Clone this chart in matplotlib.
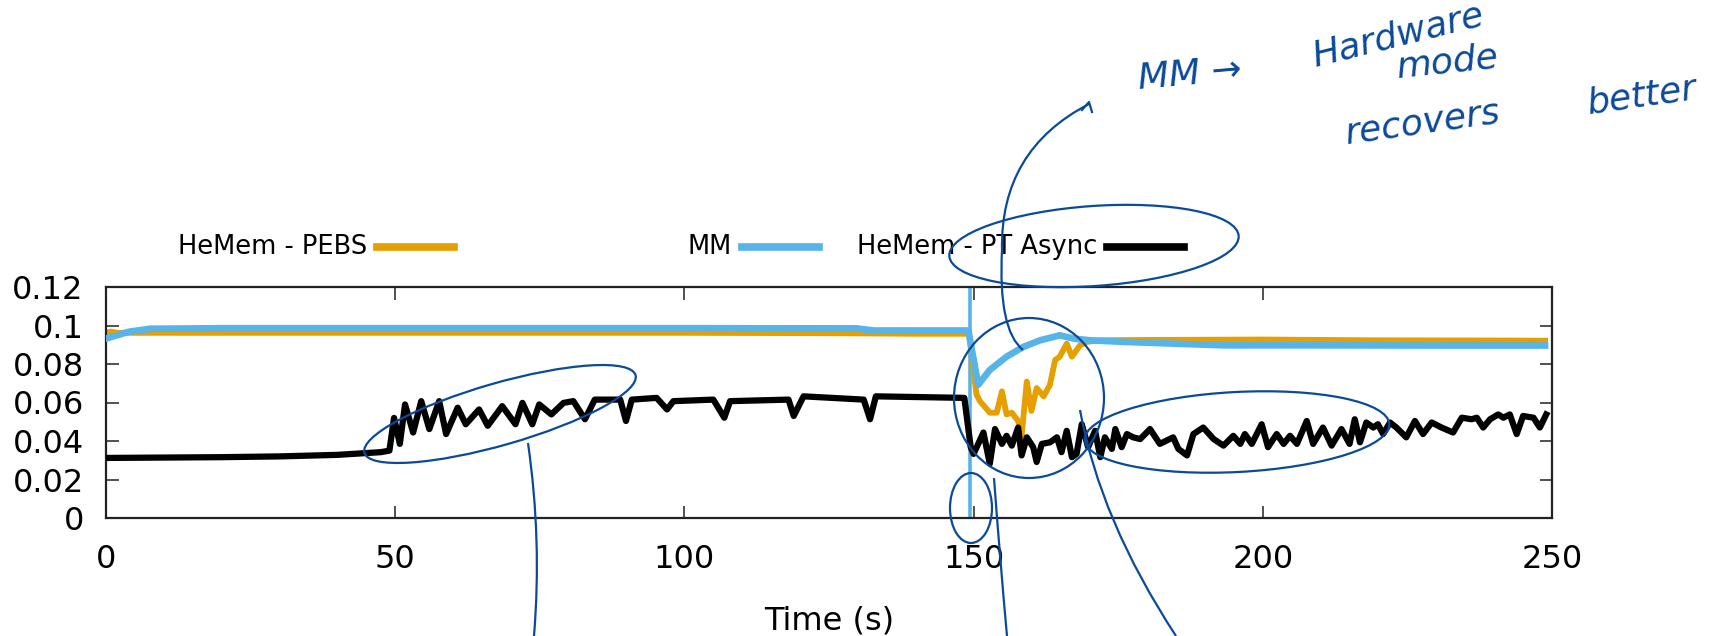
import matplotlib
matplotlib.use("Agg")
import matplotlib.pyplot as plt
from matplotlib.lines import Line2D
from matplotlib.patches import Ellipse, PathPatch
from matplotlib.path import Path

# ---- data ----
pebs_t = [0, 0.8, 2, 10, 50, 100, 125, 140, 149.2, 150.5, 151.1, 152.8, 154.0, 154.9,
          155.7, 156.6, 157.7, 158.3, 159.2, 160.0, 160.9, 162.1, 163.2, 164.1, 164.9,
          166.1, 167.0, 168.4, 169.6, 171.9, 180, 200, 220, 240, 248.8]
pebs_v = [0.0962, 0.0968, 0.0962, 0.0962, 0.0962, 0.0962, 0.0960, 0.0957, 0.0957, 0.0641,
          0.0607, 0.0547, 0.0547, 0.0658, 0.0538, 0.0547, 0.0504, 0.0427, 0.0709, 0.0556,
          0.0675, 0.0632, 0.0692, 0.0821, 0.0838, 0.0906, 0.0838, 0.0897, 0.0915, 0.0923,
          0.0925, 0.0927, 0.0923, 0.0922, 0.0921]

mm_t = [0, 2, 4, 7.6, 20, 60, 100, 129.8, 132.7, 149.1, 150.8, 152.8, 155.7, 158.6,
        161.5, 164.9, 167.3, 170.1, 175.9, 184.5, 193.2, 210, 230, 248.8]
mm_v = [0.0932, 0.0950, 0.0968, 0.0983, 0.0986, 0.0986, 0.0986, 0.0985, 0.0974, 0.0974,
        0.0692, 0.0769, 0.0838, 0.0889, 0.0923, 0.0949, 0.0932, 0.0923, 0.0915, 0.0906,
        0.0897, 0.0897, 0.0896, 0.0896]

mm_event = 149.3

pt_t = [0, 10, 20, 30, 40, 47.5, 49.0, 49.8, 50.8, 51.7, 53.1, 54.5, 55.9, 57.6, 58.8,
        60.8, 62.2, 64.5, 66.0, 68.5, 70.8, 72.0, 73.7, 74.9, 77.0, 79.1, 80.8, 82.8,
        84.5, 88.9, 89.9, 90.9, 95.2, 97.0, 98.1, 105.0, 106.9, 107.9, 118.0, 118.9,
        120.6, 131.0, 132.1, 133.1, 148.4, 149.5, 150.0, 151.7, 152.8, 153.7, 154.9,
        155.7, 156.6, 157.7, 158.3, 159.2, 160.3, 160.9, 161.8, 163.2, 164.4, 165.2,
        166.1, 167.0, 167.8, 168.7, 169.8, 171.0, 171.9, 172.7, 173.9, 174.5, 175.6,
        176.5, 177.6, 178.8, 180.5, 182.2, 184.5, 185.4, 186.9, 188.0, 189.7, 191.5,
        193.2, 194.9, 196.1, 196.9, 198.1, 199.8, 200.9, 202.4, 203.6, 204.7, 205.9,
        207.6, 208.7, 210.4, 211.9, 213.6, 215.0, 215.9, 216.8, 217.9, 219.1, 219.9,
        220.8, 222.0, 223.1, 224.8, 226.3, 227.7, 229.2, 230.9, 232.9, 234.4, 236.1,
        237.0, 238.1, 239.3, 240.7, 241.6, 242.7, 243.9, 245.0, 246.8, 247.9, 249.0]
pt_v = [0.0312, 0.0314, 0.0316, 0.0320, 0.0328, 0.0342, 0.0350, 0.0520, 0.0385, 0.0590,
        0.0444, 0.0607, 0.0462, 0.0607, 0.0436, 0.0573, 0.0487, 0.0564, 0.0479, 0.0581,
        0.0487, 0.0598, 0.0487, 0.0590, 0.0538, 0.0598, 0.0607, 0.0513, 0.0615, 0.0615,
        0.0504, 0.0615, 0.0624, 0.0564, 0.0607, 0.0615, 0.0521, 0.0607, 0.0615, 0.0530,
        0.0632, 0.0615, 0.0513, 0.0632, 0.0624, 0.0368, 0.0333, 0.0444, 0.0282, 0.0462,
        0.0385, 0.0427, 0.0376, 0.0470, 0.0325, 0.0419, 0.0368, 0.0291, 0.0385, 0.0393,
        0.0419, 0.0342, 0.0453, 0.0316, 0.0333, 0.0487, 0.0368, 0.0453, 0.0316, 0.0419,
        0.0359, 0.0462, 0.0368, 0.0436, 0.0419, 0.0410, 0.0462, 0.0385, 0.0419, 0.0359,
        0.0325, 0.0436, 0.0470, 0.0410, 0.0376, 0.0427, 0.0385, 0.0436, 0.0385, 0.0487,
        0.0368, 0.0436, 0.0385, 0.0427, 0.0385, 0.0504, 0.0385, 0.0470, 0.0376, 0.0462,
        0.0385, 0.0513, 0.0393, 0.0496, 0.0470, 0.0487, 0.0436, 0.0496, 0.0470, 0.0419,
        0.0504, 0.0436, 0.0496, 0.0470, 0.0444, 0.0521, 0.0513, 0.0521, 0.0470, 0.0513,
        0.0538, 0.0521, 0.0538, 0.0436, 0.0530, 0.0521, 0.0470, 0.0538]

labels = ["HeMem - PEBS", "MM", "HeMem - PT Async"]
colors = ["#E69F00", "#56B4E9", "#000000"]

xticks = [0, 50, 100, 150, 200, 250]
yticks = [0, 0.02, 0.04, 0.06, 0.08, 0.1, 0.12]
ytick_labels = ["0", "0.02", "0.04", "0.06", "0.08", "0.1", "0.12"]

W, H = 1716, 636
fig = plt.figure(figsize=(W / 100, H / 100), dpi=100)
ax = fig.add_axes([106 / W, 118 / H, 1446 / W, 231 / H])

ax.axvline(mm_event, color=colors[1], lw=2.6, zorder=1)
ax.plot(pebs_t, pebs_v, color=colors[0], lw=4.2, zorder=2)
ax.plot(mm_t, mm_v, color=colors[1], lw=4.8, zorder=3)
ax.plot(pt_t, pt_v, color=colors[2], lw=4.5, zorder=4)

ax.set_xlim(0, 250)
ax.set_ylim(0, 0.12)
ax.set_xticks(xticks)
ax.set_yticks(yticks)
ax.set_yticklabels(ytick_labels)
ax.tick_params(direction="in", top=True, right=True, length=9, width=1.2,
               color="#333333", labelsize=23)
ax.tick_params(axis="y", pad=16)
ax.tick_params(axis="x", pad=19)
for s in ax.spines.values():
    s.set_linewidth(1.6)
    s.set_color("#222222")
ax.set_xlabel("Time (s)", fontsize=23, labelpad=22)

# gnuplot-style key above the plot
for i, (lab, col) in enumerate(zip(labels, colors)):
    x_end = 454 + i * 365
    fig.text((x_end - 87) / W, 1 - 247 / H, lab, ha="right", va="center", fontsize=18.5)
    fig.add_artist(Line2D([(x_end - 77) / W, x_end / W], [1 - 247 / H] * 2,
                          color=col, lw=5.5, transform=fig.transFigure))

# handwritten ink on top
ink = fig.add_axes([0, 0, 1, 1], zorder=10)
ink.set_xlim(0, W)
ink.set_ylim(0, H)
ink.axis("off")
ink_c = "#0b4a99"


def P(x, y):
    return (x, H - y)


def curve(pts, **kw):
    verts = [P(*p) for p in pts]
    codes = [Path.MOVETO] + [Path.CURVE3] * (len(verts) - 1)
    ink.add_patch(PathPatch(Path(verts, codes), fill=False, ec=ink_c, lw=1.6, **kw))


for (cx, cy, w, h, a) in [(1094, 246, 290, 80, 4), (500, 414, 282, 62, 16),
                          (1029, 398, 150, 160, 0), (1237, 432, 305, 80, 3),
                          (971, 508, 42, 70, 0)]:
    ink.add_patch(Ellipse(P(cx, cy), w, h, angle=a, fill=False, ec=ink_c, lw=1.6))

curve([(528, 443), (542, 540), (534, 636)])
curve([(994, 478), (1000, 560), (1007, 636)])
curve([(1080, 410), (1100, 520), (1176, 636)])
curve([(1089, 104), (1000, 150), (1002, 250), (998, 330), (1023, 350)])
ink.plot(*zip(P(1082, 110), P(1089, 102), P(1092, 112)), color=ink_c, lw=1.6)

hand = dict(color=ink_c, fontsize=26, style="italic", ha="center", va="center")
ink.text(*P(1190, 75), "MM →", rotation=5, **hand)
ink.text(*P(1398, 36), "Hardware", rotation=14, **hand)
ink.text(*P(1448, 62), "mode", rotation=6, **hand)
ink.text(*P(1423, 123), "recovers", rotation=8, **hand)
ink.text(*P(1642, 96), "better", rotation=8, **hand)

fig.savefig("out.png", dpi=100)
